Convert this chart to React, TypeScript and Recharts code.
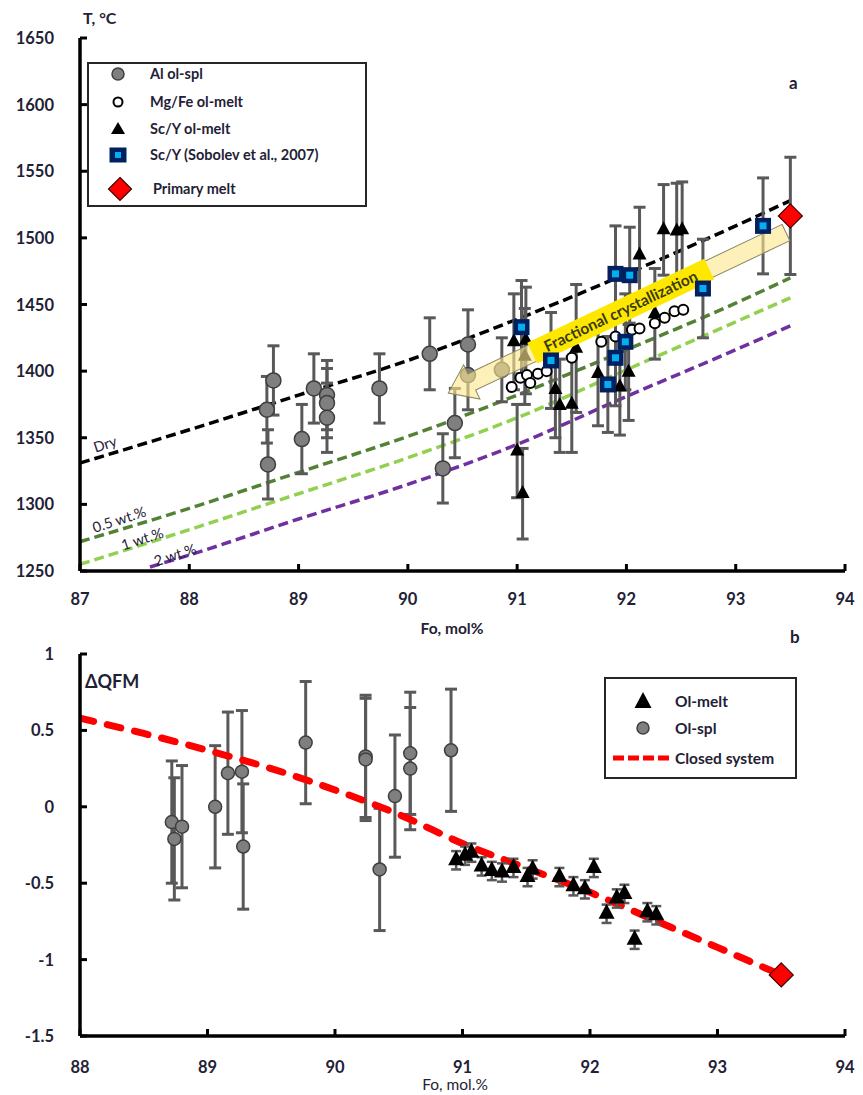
import React from 'react';
import {
  ComposedChart,
  Line,
  Scatter,
  XAxis,
  YAxis,
  ErrorBar,
  ReferenceDot,
  Legend,
} from 'recharts';

const FONT = 'Lato, "Open Sans", "DejaVu Sans", sans-serif';
const INK = '#1f2236';
const BAR = '#595959';

// ---------- Panel a: crystallization temperature vs. olivine Fo ----------
const foCurve = [87, 88, 89, 90, 91, 92, 93, 93.5];
const tDry = [1331, 1356, 1382, 1408, 1439, 1473, 1509, 1528];
const tWater05 = [1272, 1297, 1324, 1351, 1382, 1416, 1451, 1470];
const tWater1 = [1255, 1281, 1308, 1335, 1365, 1401, 1437, 1455];
const foCurve2 = [87.64, 88, 89, 90, 91, 92, 93, 93.5];
const tWater2 = [1253, 1262, 1289, 1315, 1345, 1381, 1416, 1434];

// [Fo, T, ±error]
const alOlSpl = [
  [88.71, 1371, 25], [88.77, 1393, 26], [88.72, 1330, 26], [89.03, 1349, 26],
  [89.14, 1387, 26], [89.26, 1382, 26], [89.26, 1376, 26], [89.26, 1365, 26],
  [89.74, 1387, 26], [90.2, 1413, 27], [90.32, 1327, 26], [90.43, 1361, 26],
  [90.55, 1420, 26], [90.55, 1397, 26], [90.86, 1401, 24],
];
// [Fo, T]
const mgFeOlMelt = [
  [90.95, 1388], [91.03, 1395], [91.09, 1397], [91.12, 1391], [91.19, 1398],
  [91.27, 1400], [91.5, 1410], [91.77, 1422], [91.9, 1426], [92.05, 1431],
  [92.12, 1432], [92.26, 1436], [92.35, 1440], [92.44, 1445], [92.52, 1446],
];
// [Fo, T, ±error]
const scYOlMelt = [
  [90.97, 1422, 36], [91.08, 1423, 40], [91.07, 1411, 36], [91.0, 1340, 35],
  [91.05, 1308, 34], [91.35, 1386, 36], [91.39, 1374, 35], [91.5, 1375, 36],
  [91.54, 1417, 48], [91.74, 1398, 39], [91.94, 1388, 36], [92.02, 1399, 36],
  [92.12, 1487, 36], [92.26, 1443, 34], [92.34, 1506, 34], [92.46, 1505, 36],
  [92.51, 1506, 36],
];
const scYSobolev = [
  [91.04, 1433, 35], [91.31, 1408, 36], [91.9, 1473, 36], [92.03, 1472, 36],
  [91.99, 1422, 36], [91.9, 1410, 36], [91.83, 1390, 36], [92.7, 1462, 37],
  [93.25, 1509, 36],
];
const primaryMeltT = [[93.5, 1516.5, 44]];

const tempTicks = [1250, 1300, 1350, 1400, 1450, 1500, 1550, 1600, 1650];
const foTicksA = [87, 88, 89, 90, 91, 92, 93, 94];

// fractional crystallization arrow: tail near the primary melt, head at lower Fo
const fracArrowFo = [93.46, 90.37];
const fracArrowT = [1504, 1383.5];

// ---------- Panel b: ΔQFM vs. olivine Fo ----------
// [Fo, ΔQFM, ±error]
const olSplQfm = [
  [88.72, -0.1, 0.4], [88.8, -0.13, 0.4], [88.74, -0.21, 0.4], [89.06, 0.0, 0.4],
  [89.16, 0.22, 0.4], [89.27, 0.23, 0.4], [89.28, -0.26, 0.41], [89.77, 0.42, 0.4],
  [90.24, 0.33, 0.4], [90.24, 0.31, 0.4], [90.35, -0.41, 0.4], [90.47, 0.07, 0.4],
  [90.59, 0.35, 0.4], [90.59, 0.25, 0.4], [90.91, 0.37, 0.4],
];
const olMeltQfm = [
  [90.95, -0.35, 0.06], [91.02, -0.32, 0.06], [91.07, -0.3, 0.06], [91.15, -0.39, 0.06],
  [91.23, -0.42, 0.06], [91.31, -0.43, 0.06], [91.4, -0.4, 0.06], [91.51, -0.46, 0.06],
  [91.55, -0.41, 0.06], [91.76, -0.46, 0.06], [91.87, -0.52, 0.06], [91.96, -0.54, 0.06],
  [92.03, -0.4, 0.06], [92.13, -0.7, 0.06], [92.21, -0.6, 0.06], [92.27, -0.57, 0.06],
  [92.35, -0.87, 0.06], [92.45, -0.69, 0.06], [92.52, -0.71, 0.06],
];
const foClosed = [88, 88.5, 89, 89.5, 90, 90.5, 91, 91.5, 92, 92.5, 93, 93.5];
const qfmClosed = [0.58, 0.48, 0.37, 0.25, 0.11, -0.05, -0.24, -0.4, -0.56, -0.74, -0.92, -1.1];
const primaryMeltQfm = [[93.5, -1.1]];

const qfmTicks = [-1.5, -1, -0.5, 0, 0.5, 1];
const foTicksB = [88, 89, 90, 91, 92, 93, 94];

// ---------- helpers ----------
const toPoints = (rows: number[][]) => rows.map(([x, y, e]) => ({ x, y, e }));
const toCurve = (xs: number[], ys: number[]) => xs.map((x, i) => ({ x, y: ys[i] }));

const greyDot = (r: number) => (p: any) =>
  p.cx == null ? <g /> : (
    <circle cx={p.cx} cy={p.cy} r={r} fill="#7f7f7f" stroke="#3f3f3f" strokeWidth={1.5} />
  );
const openDot = (p: any) =>
  p.cx == null ? <g /> : (
    <circle cx={p.cx} cy={p.cy} r={5} fill="#fff" stroke="#000" strokeWidth={2} />
  );
const triangle = (w: number, h: number) => (p: any) =>
  p.cx == null ? <g /> : (
    <polygon
      points={`${p.cx},${p.cy - (h * 2) / 3} ${p.cx - w / 2},${p.cy + h / 3} ${p.cx + w / 2},${p.cy + h / 3}`}
      fill="#000"
    />
  );
const navySquare = (p: any) =>
  p.cx == null ? <g /> : (
    <g>
      <rect x={p.cx - 8} y={p.cy - 8} width={16} height={16} fill="#002060" />
      <rect x={p.cx - 3.5} y={p.cy - 3.5} width={7} height={7} fill="#00b0f0" />
    </g>
  );
const redDiamond = (s: number) => (p: any) =>
  p.cx == null ? <g /> : (
    <polygon
      points={`${p.cx},${p.cy - s} ${p.cx + s},${p.cy} ${p.cx},${p.cy + s} ${p.cx - s},${p.cy}`}
      fill="#ff0000"
      stroke="#400000"
      strokeWidth={1.2}
    />
  );
const noMark = () => <g />;

const makeYTick = (fmt: (v: number) => string) => (props: any) => {
  const { x, y, payload } = props;
  return (
    <g>
      <line x1={x} y1={y} x2={x + 7} y2={y} stroke="#000" strokeWidth={3} />
      <text
        x={x - 26}
        y={y + 6}
        textAnchor="end"
        fontFamily={FONT}
        fontWeight={700}
        fontSize={16.5}
        fill={INK}
      >
        {fmt(payload.value)}
      </text>
    </g>
  );
};

const makeXTick = (dy: number) => (props: any) => {
  const { x, y, payload } = props;
  return (
    <g>
      <line x1={x} y1={y} x2={x} y2={y - 7} stroke="#000" strokeWidth={3} />
      <text
        x={x}
        y={y + dy}
        textAnchor="middle"
        fontFamily={FONT}
        fontWeight={700}
        fontSize={16.5}
        fill={INK}
      >
        {payload.value}
      </text>
    </g>
  );
};

const curveLabel = (text: string) => (p: any) =>
  p.cx == null ? <g /> : (
    <text
      x={p.cx}
      y={p.cy + 5}
      textAnchor="middle"
      transform={`rotate(-18 ${p.cx} ${p.cy})`}
      fontFamily={FONT}
      fontSize={14.5}
      fill={INK}
    >
      {text}
    </text>
  );

// Block arrow with a label box, drawn along the two points of its series
const ArrowLine = (props: any) => {
  const pts = props.points || [];
  if (pts.length < 2 || pts[0].x == null) return <g />;
  const x1 = pts[0].x;
  const y1 = pts[0].y;
  const x2 = pts[1].x;
  const y2 = pts[1].y;
  const dx = x2 - x1;
  const dy = y2 - y1;
  const len = Math.sqrt(dx * dx + dy * dy);
  const ang = (Math.atan2(dy, dx) * 180) / Math.PI;
  const body = 18;
  const headLen = 26;
  const headW = 38;
  const ux = dx / len;
  const uy = dy / len;
  const boxCenter = 183;
  const cx = x1 + ux * boxCenter;
  const cy = y1 + uy * boxCenter;
  const textAng = (Math.atan2(-dy, -dx) * 180) / Math.PI;
  return (
    <g>
      <g transform={`translate(${x1} ${y1}) rotate(${ang})`}>
        <polygon
          points={`0,${-body / 2} ${len - headLen},${-body / 2} ${len - headLen},${-headW / 2} ${len},0 ${len - headLen},${headW / 2} ${len - headLen},${body / 2} 0,${body / 2}`}
          fill="#fbe98e"
          fillOpacity={0.62}
          stroke="#8a8462"
          strokeWidth={1}
        />
      </g>
      <g transform={`translate(${cx} ${cy}) rotate(${textAng})`}>
        <rect x={-98} y={-11.5} width={196} height={23} fill="#ffe800" />
        <text
          x={0}
          y={5.5}
          textAnchor="middle"
          fontFamily={FONT}
          fontWeight={700}
          fontSize={15.5}
          fill="#3a3a12"
        >
          Fractional crystallization
        </text>
      </g>
    </g>
  );
};

// ---------- legends ----------
const iconSvg = (child: React.ReactNode, left: number, top: number) => (
  <svg
    width={30}
    height={26}
    style={{ position: 'absolute', left: left - 15, top: top - 13, overflow: 'visible' }}
  >
    {child}
  </svg>
);

const LegendA = () => {
  const rows = [
    { y: 10, label: 'Al ol-spl', icon: <circle cx={15} cy={13} r={6} fill="#7f7f7f" stroke="#3f3f3f" strokeWidth={1.5} /> },
    { y: 37.5, label: 'Mg/Fe ol-melt', icon: <circle cx={15} cy={13} r={4.5} fill="#fff" stroke="#000" strokeWidth={2} /> },
    { y: 64.5, label: 'Sc/Y ol-melt', icon: <polygon points="15,6 8,18 22,18" fill="#000" /> },
    {
      y: 91,
      label: 'Sc/Y (Sobolev et al., 2007)',
      icon: (
        <g>
          <rect x={6.5} y={5.5} width={17} height={15} fill="#002060" />
          <rect x={12} y={10} width={6} height={6} fill="#00b0f0" />
        </g>
      ),
    },
    {
      y: 125,
      label: 'Primary melt',
      icon: <polygon points="15,1.5 26.5,13 15,24.5 3.5,13" fill="#ff0000" stroke="#400000" strokeWidth={1.2} />,
    },
  ];
  return (
    <div
      style={{
        position: 'relative',
        width: 280,
        height: 145,
        border: '2px solid #262626',
        boxSizing: 'border-box',
        background: '#fff',
        fontFamily: FONT,
        fontWeight: 700,
        fontSize: 14.5,
        color: INK,
      }}
    >
      {rows.map((r, i) => (
        <React.Fragment key={i}>
          {iconSvg(r.icon, i === 4 ? 31 : 29, r.y)}
          <span
            style={{
              position: 'absolute',
              left: i === 4 ? 64 : 61,
              top: r.y - 10,
              lineHeight: '20px',
              whiteSpace: 'nowrap',
            }}
          >
            {r.label}
          </span>
        </React.Fragment>
      ))}
    </div>
  );
};

const LegendB = () => {
  const rows = [
    { y: 22, label: 'Ol-melt', icon: <polygon points="15,4 6.5,20 23.5,20" fill="#000" /> },
    { y: 49, label: 'Ol-spl', icon: <circle cx={15} cy={13} r={6} fill="#7f7f7f" stroke="#3f3f3f" strokeWidth={1.5} /> },
  ];
  return (
    <div
      style={{
        position: 'relative',
        width: 193,
        height: 102,
        border: '2px solid #262626',
        boxSizing: 'border-box',
        background: '#fff',
        fontFamily: FONT,
        fontWeight: 700,
        fontSize: 15.5,
        color: INK,
      }}
    >
      {rows.map((r, i) => (
        <React.Fragment key={i}>
          {iconSvg(r.icon, 37, r.y)}
          <span style={{ position: 'absolute', left: 69, top: r.y - 10, lineHeight: '20px', whiteSpace: 'nowrap' }}>
            {r.label}
          </span>
        </React.Fragment>
      ))}
      <svg width={62} height={12} style={{ position: 'absolute', left: 4, top: 73 }}>
        <line x1={3} y1={6} x2={60} y2={6} stroke="#ff0000" strokeWidth={5} strokeDasharray="11 4" />
      </svg>
      <span style={{ position: 'absolute', left: 69, top: 69, lineHeight: '20px', whiteSpace: 'nowrap' }}>
        Closed system
      </span>
    </div>
  );
};

// ---------- chart ----------
const fmtQfm = (v: number) => (v === 0 ? '0' : String(v));

export default function App() {
  const dashA = { strokeWidth: 3.5, strokeDasharray: '10 5', dot: false, activeDot: false, isAnimationActive: false, type: 'monotone' as const };

  return (
    <div style={{ position: 'absolute', left: 0, top: 0, width: 863, height: 1095, background: '#fff' }}>
      <div style={{ position: 'absolute', left: 0, top: 0 }}>
        <ComposedChart width={863} height={620} margin={{ top: 38, right: 18, bottom: 9, left: 0 }}>
          <XAxis
            type="number"
            dataKey="x"
            domain={[87, 94]}
            ticks={foTicksA}
            allowDataOverflow
            height={40}
            tickSize={0}
            tickMargin={0}
            tickLine={false}
            axisLine={{ stroke: '#000', strokeWidth: 3.5 }}
            tick={makeXTick(34)}
          />
          <YAxis
            type="number"
            dataKey="y"
            domain={[1250, 1650]}
            ticks={tempTicks}
            allowDataOverflow
            width={80}
            tickSize={0}
            tickMargin={0}
            tickLine={false}
            axisLine={{ stroke: '#000', strokeWidth: 3.5 }}
            tick={makeYTick((v) => String(v))}
          />
          <Line data={toCurve(foCurve2, tWater2)} dataKey="y" stroke="#7030a0" {...dashA} />
          <Line data={toCurve(foCurve, tWater1)} dataKey="y" stroke="#92d050" {...dashA} />
          <Line data={toCurve(foCurve, tWater05)} dataKey="y" stroke="#548235" {...dashA} />
          <Line data={toCurve(foCurve, tDry)} dataKey="y" stroke="#000" {...dashA} />

          <ReferenceDot x={87.23} y={1345} r={0} shape={curveLabel('Dry')} />
          <ReferenceDot x={87.36} y={1288.5} r={0} shape={curveLabel('0.5 wt.%')} />
          <ReferenceDot x={87.57} y={1274} r={0} shape={curveLabel('1 wt.%')} />
          <ReferenceDot x={87.87} y={1262} r={0} shape={curveLabel('2 wt.%')} />

          <Scatter name="Al ol-spl" data={toPoints(alOlSpl)} shape={greyDot(7.5)} isAnimationActive={false}>
            <ErrorBar dataKey="e" direction="y" width={6} strokeWidth={3} stroke={BAR} />
          </Scatter>
          <Scatter name="Sc/Y ol-melt" data={toPoints(scYOlMelt)} shape={triangle(14, 13)} isAnimationActive={false}>
            <ErrorBar dataKey="e" direction="y" width={6} strokeWidth={3} stroke={BAR} />
          </Scatter>

          <Scatter
            name="Fractional crystallization"
            data={toCurve(fracArrowFo, fracArrowT)}
            shape={noMark}
            line={ArrowLine}
            isAnimationActive={false}
          />

          <Scatter name="Mg/Fe ol-melt" data={toPoints(mgFeOlMelt)} shape={openDot} isAnimationActive={false} />
          <Scatter name="Sc/Y (Sobolev et al., 2007)" data={toPoints(scYSobolev)} shape={navySquare} isAnimationActive={false}>
            <ErrorBar dataKey="e" direction="y" width={6} strokeWidth={3} stroke={BAR} />
          </Scatter>
          <Scatter name="Primary melt" data={toPoints(primaryMeltT)} shape={redDiamond(12)} isAnimationActive={false}>
            <ErrorBar dataKey="e" direction="y" width={6} strokeWidth={3} stroke={BAR} />
          </Scatter>

          <Legend
            layout="vertical"
            align="center"
            verticalAlign="middle"
            content={() => <LegendA />}
            wrapperStyle={{ left: 87, top: 62, width: 280, height: 145 }}
          />
        </ComposedChart>
      </div>

      <div style={{ position: 'absolute', left: 0, top: 620 }}>
        <ComposedChart width={863} height={475} margin={{ top: 34, right: 18, bottom: 19, left: 0 }}>
          <XAxis
            type="number"
            dataKey="x"
            domain={[88, 94]}
            ticks={foTicksB}
            allowDataOverflow
            height={40}
            tickSize={0}
            tickMargin={0}
            tickLine={false}
            axisLine={{ stroke: '#000', strokeWidth: 3.5 }}
            tick={makeXTick(37)}
          />
          <YAxis
            type="number"
            dataKey="y"
            domain={[-1.5, 1]}
            ticks={qfmTicks}
            allowDataOverflow
            width={80}
            tickSize={0}
            tickMargin={0}
            tickLine={false}
            axisLine={{ stroke: '#000', strokeWidth: 3.5 }}
            tick={makeYTick(fmtQfm)}
          />
          <Scatter name="Ol-spl" data={toPoints(olSplQfm)} shape={greyDot(6.5)} isAnimationActive={false}>
            <ErrorBar dataKey="e" direction="y" width={6} strokeWidth={3} stroke={BAR} />
          </Scatter>
          <Line
            data={toCurve(foClosed, qfmClosed)}
            dataKey="y"
            type="monotone"
            stroke="#ff0000"
            strokeWidth={7}
            strokeDasharray="14 14"
            strokeLinecap="round"
            dot={false}
            activeDot={false}
            isAnimationActive={false}
          />
          <Scatter name="Ol-melt" data={toPoints(olMeltQfm)} shape={triangle(16, 15)} isAnimationActive={false}>
            <ErrorBar dataKey="e" direction="y" width={5} strokeWidth={2.5} stroke={BAR} />
          </Scatter>
          <Scatter name="Primary melt" data={toPoints(primaryMeltQfm)} shape={redDiamond(12)} isAnimationActive={false} />
          <Legend
            layout="vertical"
            align="center"
            verticalAlign="middle"
            content={() => <LegendB />}
            wrapperStyle={{ left: 604, top: 57, width: 193, height: 102 }}
          />
        </ComposedChart>
      </div>

      <svg
        width={863}
        height={1095}
        style={{ position: 'absolute', left: 0, top: 0, pointerEvents: 'none' }}
        fontFamily={FONT}
        fill={INK}
      >
        <text x={83} y={24} fontSize={16} fontWeight={700}>T, °C</text>
        <text x={789} y={89} fontSize={17} fontWeight={700}>a</text>
        <text x={452} y={634} fontSize={15.5} fontWeight={700} textAnchor="middle">Fo, mol%</text>
        <text x={790} y={643} fontSize={17} fontWeight={700}>b</text>
        <text x={85} y={688} fontSize={18} fontWeight={700}>ΔQFM</text>
        <text x={455} y={1090} fontSize={15.5} textAnchor="middle">Fo, mol.%</text>
      </svg>
    </div>
  );
}
